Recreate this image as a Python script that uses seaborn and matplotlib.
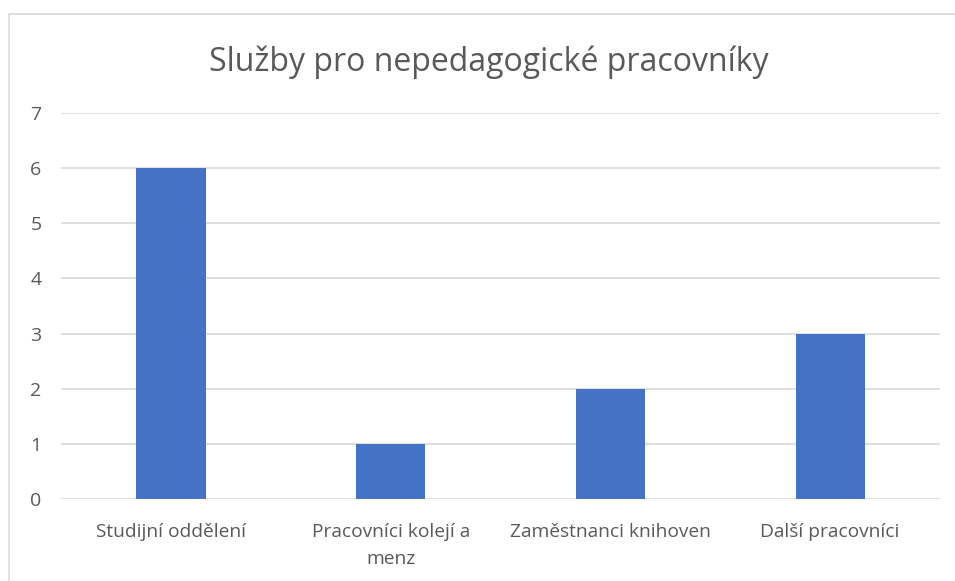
import pandas as pd
import matplotlib
matplotlib.use("Agg")
import matplotlib.pyplot as plt
import matplotlib.patches as patches
import seaborn as sns

# --- data ---
categories = ["Studijní oddělení", "Pracovníci kolejí a\nmenz",
              "Zaměstnanci knihoven", "Další pracovníci"]
counts = [6, 1, 2, 3]
y_ticks = [0, 1, 2, 3, 4, 5, 6, 7]
title = "Služby pro nepedagogické pracovníky"

df = pd.DataFrame({"Kategorie": categories, "Počet": counts})

sns.set_style("white")
plt.rcParams["font.family"] = ["Open Sans", "DejaVu Sans"]

fig = plt.figure(figsize=(9.55, 5.81), dpi=100)
ax = fig.add_axes([0.0639, 0.1411, 0.9204, 0.6644])

sns.barplot(data=df, x="Kategorie", y="Počet", color="#4472C4",
            width=0.315, saturation=1, ax=ax, zorder=3, edgecolor="none")

ax.set_ylim(0, 7)
ax.set_yticks(y_ticks)
ax.set_xlim(-0.5, len(categories) - 0.5)
ax.yaxis.grid(True, color="#d9d9d9", linewidth=1.2, zorder=0)
ax.set_axisbelow(True)
for s in ax.spines.values():
    s.set_visible(False)
ax.tick_params(axis="both", length=0, labelsize=14, labelcolor="#595959")
ax.tick_params(axis="x", labelsize=13.8)
ax.tick_params(axis="y", pad=14)
ax.tick_params(axis="x", pad=17)
for lbl in ax.get_xticklabels():
    lbl.set_linespacing(1.7)
ax.set_xlabel("")
ax.set_ylabel("")

fig.text(0.512, 0.893, title, ha="center", va="center",
         fontsize=23, color="#595959")

# chart frame (cut off at right and bottom like the screenshot)
frame = patches.Rectangle((9 / 955, -0.1), 1.2, 1 - 14 / 581 + 0.1,
                          transform=fig.transFigure, fill=False,
                          edgecolor="#d9d9d9", linewidth=1.2, clip_on=False)
fig.patches.append(frame)

fig.savefig("out.png", dpi=100)
